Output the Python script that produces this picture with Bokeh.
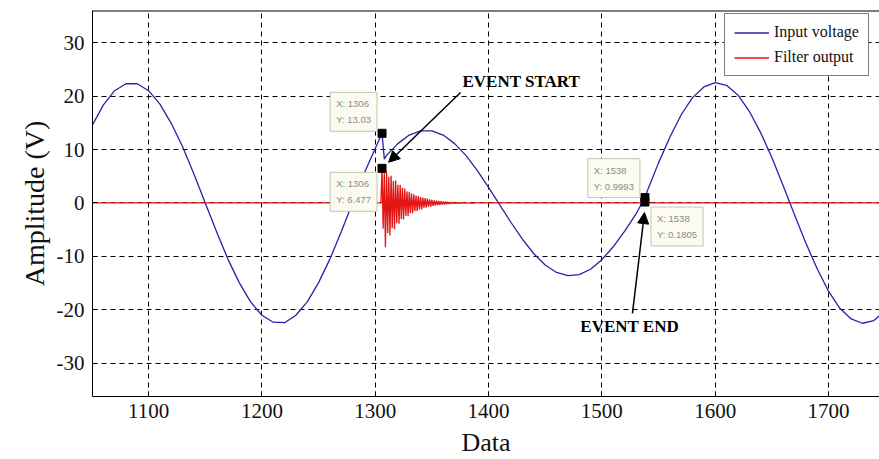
from bokeh.plotting import figure
from bokeh.models import (Range1d, FixedTicker, Label, Arrow, NormalHead,
                          Legend, LegendItem, PrintfTickFormatter, Span)
from bokeh.embed import file_html
from bokeh.resources import INLINE

# ---------------- data ----------------
input_x = [1050, 1060, 1070, 1080, 1090, 1100, 1110, 1120, 1130, 1140,
           1150, 1160, 1170, 1180, 1190, 1200, 1210, 1220, 1230, 1240,
           1250, 1260, 1270, 1280, 1290, 1300, 1306, 1308, 1310, 1320,
           1330, 1340, 1350, 1360, 1370, 1380, 1390, 1400, 1410, 1420,
           1430, 1440, 1450, 1460, 1470, 1480, 1490, 1500, 1510, 1520,
           1530, 1538, 1540, 1550, 1560, 1570, 1580, 1590, 1600, 1610,
           1620, 1630, 1640, 1650, 1660, 1670, 1680, 1690, 1700, 1710,
           1720, 1730, 1740, 1750]
input_y = [14.4, 18.3, 21.0, 22.3, 22.3, 21.0, 18.5, 14.9, 10.5, 5.4,
           0.0, -5.4, -10.5, -14.9, -18.5, -21.0, -22.3, -22.4, -21.0, -18.5,
           -14.9, -10.5, -5.4, 0.0, 5.4, 10.2, 13.03, 8.2, 8.9, 11.1,
           12.7, 13.5, 13.5, 12.7, 11.1, 8.9, 6.1, 2.9, -0.4, -3.7,
           -6.8, -9.5, -11.6, -13.0, -13.6, -13.4, -12.4, -10.6, -8.2, -5.3,
           -2.1, 0.9993, 2.2, 7.5, 12.3, 16.5, 19.7, 21.7, 22.5, 22.0,
           20.2, 17.2, 13.2, 8.5, 3.2, -2.2, -7.5, -12.3, -16.5, -19.7,
           -21.7, -22.5, -22.0, -20.2]

filter_x = [1050, 1305,
            1306, 1307, 1308, 1309, 1310, 1311, 1312, 1313, 1314, 1315,
            1316, 1317, 1318, 1319, 1320, 1321, 1322, 1323, 1324, 1325,
            1326, 1327, 1328, 1329, 1330, 1331, 1332, 1333, 1334, 1335,
            1336, 1337, 1338, 1339, 1340, 1341, 1342, 1343, 1344, 1345,
            1346, 1347, 1348, 1349, 1350, 1351, 1352, 1353, 1354, 1355,
            1356, 1357, 1358, 1359, 1360, 1361, 1362, 1363, 1364, 1365,
            1366, 1367, 1368, 1369, 1370, 1371, 1372, 1373, 1374, 1375,
            1376, 1377, 1378, 1379, 1380, 1381, 1382, 1383, 1384, 1385,
            1386, 1387, 1388, 1389, 1390,
            1536, 1538, 1539, 1540, 1541, 1542, 1543, 1750]
filter_y = [0, 0,
            6.477, -4.8, 5.6, -8.3, 5.9, -5.6, 4.9, -6.1, 5.1, -4.7,
            4.1, -4.9, 4.2, -3.8, 3.4, -3.9, 3.4, -3.0, 2.8, -3.1,
            2.7, -2.4, 2.2, -2.5, 2.1, -1.9, 1.8, -1.9, 1.6, -1.5,
            1.4, -1.5, 1.3, -1.2, 1.1, -1.2, 1.0, -0.9, 0.9, -0.9,
            0.8, -0.7, 0.7, -0.7, 0.6, -0.55, 0.5, -0.5, 0.45, -0.4,
            0.4, -0.4, 0.35, -0.3, 0.3, -0.3, 0.25, -0.22, 0.2, -0.2,
            0.18, -0.16, 0.15, -0.14, 0.13, -0.12, 0.1, -0.1, 0.09, -0.08,
            0.07, -0.06, 0.06, -0.05, 0.05, -0.04, 0.04, -0.03, 0.03, -0.02,
            0.02, -0.01, 0.01, 0, 0,
            0, 0.1805, -0.3, 0.35, -0.25, 0.15, 0, 0]

tip_x = [1306, 1306, 1538, 1538]
tip_y = [13.03, 6.477, 0.9993, 0.1805]
tip_text = ["X: 1306\nY: 13.03", "X: 1306\nY: 6.477",
            "X: 1538\nY: 0.9993", "X: 1538\nY: 0.1805"]

x_ticks = [1100, 1200, 1300, 1400, 1500, 1600, 1700]
y_ticks = [-30, -20, -10, 0, 10, 20, 30]

series_names = ["Input voltage", "Filter output"]
x_title = "Data"
y_title = "Amplitude (V)"

# ---------------- figure ----------------
SERIF = "Liberation Serif"
p = figure(width=879, height=459, output_backend="svg", toolbar_location=None,
           x_range=Range1d(1050.5, 1745), y_range=Range1d(-36.2, 36.0),
           min_border_left=92, min_border_right=0, min_border_top=10,
           min_border_bottom=63, background_fill_color="white",
           border_fill_color="white")
p.outline_line_color = None

p.xaxis.ticker = FixedTicker(ticks=x_ticks)
p.yaxis.ticker = FixedTicker(ticks=y_ticks)
for ax in (p.xaxis[0], p.yaxis[0]):
    ax.formatter = PrintfTickFormatter(format="%d")
    ax.major_tick_in = 5
    ax.major_tick_out = 0
    ax.minor_tick_line_color = None
    ax.axis_line_color = "black"
    ax.major_tick_line_color = "black"
    ax.major_label_text_font = SERIF
    ax.major_label_text_font_size = "21px"
    ax.major_label_text_color = "#111111"
    ax.axis_label_text_font = SERIF
    ax.axis_label_text_font_style = "normal"
    ax.axis_label_text_color = "#111111"
p.xaxis.major_label_standoff = 7
p.xaxis.axis_label = x_title
p.xaxis.axis_label_text_font_size = "26px"
p.xaxis.axis_label_standoff = 7
p.yaxis.major_label_standoff = 8
p.yaxis.axis_label = y_title
p.yaxis.axis_label_text_font_size = "28px"
p.yaxis.axis_label_standoff = 4

# top frame line (the right side of the frame is cut off in the reference)
p.add_layout(Span(location=36.0, dimension="width", line_color="black", line_width=2))

for g in (p.xgrid[0], p.ygrid[0]):
    g.grid_line_color = "black"
    g.grid_line_dash = "5 4"
    g.grid_line_width = 1

r_in = p.line(input_x, input_y, line_color="#2424a8", line_width=1.3)
r_out = p.line(filter_x, filter_y, line_color="#e31414", line_width=1.3)

p.scatter(tip_x, tip_y, marker="square", size=8, color="black")

# data tips
tip_anchor = ["bottom_right", "top_right", "bottom_right", "top_left"]
tip_dx = [-5, -5, -5, 6]
tip_dy = [2, -4, 0, -5]
for i in range(len(tip_x)):
    p.add_layout(Label(x=tip_x[i], y=tip_y[i], text=tip_text[i], anchor=tip_anchor[i],
                       x_offset=tip_dx[i], y_offset=tip_dy[i],
                       text_font="Liberation Sans", text_font_size="9.5px",
                       text_color="#8c8c84", text_line_height=1.45,
                       background_fill_color="#fbfbf1", border_line_color="#c4c4b0",
                       padding=6))

# event annotations
p.add_layout(Arrow(x_start=1375.3, y_start=20.65, x_end=1311.8, y_end=7.6,
                   line_color="black", line_width=1.5,
                   end=NormalHead(size=11, fill_color="black", line_color="black")))
p.add_layout(Arrow(x_start=1527, y_start=-20.65, x_end=1537.6, y_end=-1.8,
                   line_color="black", line_width=1.5,
                   end=NormalHead(size=11, fill_color="black", line_color="black")))
p.add_layout(Label(x=1377, y=22.7, text="EVENT START", text_font=SERIF,
                   text_font_style="bold", text_font_size="17px",
                   text_baseline="middle", text_align="left", text_color="black"))
p.add_layout(Label(x=1481, y=-23.1, text="EVENT END", text_font=SERIF,
                   text_font_style="bold", text_font_size="17px",
                   text_baseline="middle", text_align="left", text_color="black"))

legend = Legend(items=[LegendItem(label=series_names[0], renderers=[r_in]),
                       LegendItem(label=series_names[1], renderers=[r_out])],
                location=(632, 320))
legend.border_line_color = "black"
legend.border_line_width = 1
legend.background_fill_color = "white"
legend.background_fill_alpha = 1
legend.label_text_font = SERIF
legend.label_text_font_size = "16px"
legend.label_text_color = "#111111"
legend.glyph_width = 35
legend.glyph_height = 15
legend.label_height = 15
legend.label_standoff = 5
legend.spacing = 7
legend.padding = 9
legend.margin = 0
p.add_layout(legend)

open("out.html", "w").write(file_html(p, INLINE))
